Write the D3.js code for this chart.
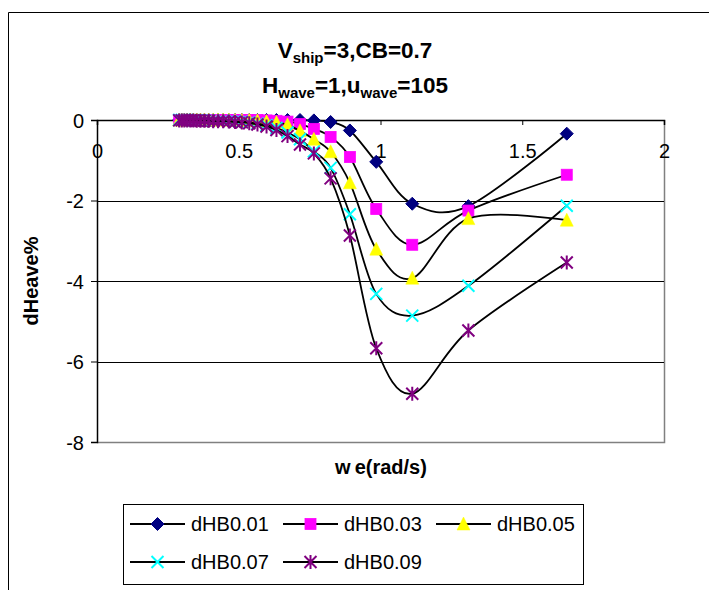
<!DOCTYPE html>
<html><head><meta charset="utf-8">
<script src="https://cdn.jsdelivr.net/npm/d3@7"></script>
<style>
body{margin:0;background:#fff;}
svg{display:block;font-family:"Liberation Sans",Arial,sans-serif;}
</style></head>
<body><svg id="c" width="709" height="590"></svg>
<script>
const weValues = [0.290,0.299,0.308,0.318,0.329,0.340,0.352,0.365,0.379,0.394,0.410,0.427,0.445,0.465,0.487,0.511,0.537,0.566,0.598,0.633,0.672,0.716,0.765,0.824,0.892,0.985,1.112,1.310,1.657];
const dHB001 = [0,0,0,0,0,0,0,0,0,0,0,0,0,0,0,0,0,0,0,0,0,0,-0.01,-0.05,-0.26,-1.04,-2.08,-2.14,-0.34];
const dHB003 = [0,0,0,0,0,0,0,0,0,0,0,0,0,0,0,0,0,0,-0.01,-0.02,-0.04,-0.10,-0.22,-0.42,-0.92,-2.21,-3.10,-2.25,-1.36];
const dHB005 = [0,0,0,0,0,0,0,0,0,0,0,0,0,0,-0.01,-0.01,-0.01,-0.02,-0.04,-0.06,-0.12,-0.27,-0.48,-0.79,-1.56,-3.21,-3.93,-2.45,-2.49];
const dHB007 = [0,0,0,0,-0.01,-0.01,-0.01,-0.01,-0.01,-0.01,-0.02,-0.02,-0.02,-0.03,-0.03,-0.04,-0.06,-0.09,-0.13,-0.20,-0.31,-0.48,-0.78,-1.19,-2.34,-4.32,-4.86,-4.12,-2.13];
const dHB009 = [-0.01,-0.01,-0.01,-0.01,-0.01,-0.01,-0.02,-0.02,-0.02,-0.02,-0.03,-0.03,-0.03,-0.04,-0.05,-0.06,-0.08,-0.11,-0.16,-0.25,-0.40,-0.61,-0.83,-1.45,-2.87,-5.67,-6.80,-5.23,-3.54];
const seriesNames = ["dHB0.01","dHB0.03","dHB0.05","dHB0.07","dHB0.09"];
const seriesValues = [dHB001,dHB003,dHB005,dHB007,dHB009];
const xTicks = [0,0.5,1,1.5,2];
const yTicks = [0,-2,-4,-6,-8];

const styles = [
  {shape:"diamond", color:"#000080"},
  {shape:"square", color:"#FF00FF"},
  {shape:"triangle", color:"#FFFF00"},
  {shape:"cross", color:"#00FFFF"},
  {shape:"star", color:"#800080"}
];

const svg = d3.select("#c");
svg.append("path").attr("d","M8.5,590 V12.5 H709").attr("fill","none").attr("stroke","#000").attr("stroke-width",1);

const x = d3.scaleLinear().domain([0,2]).range([97,664]);
const y = d3.scaleLinear().domain([-8,0]).range([442,120]);

svg.append("path").attr("d",`M${x(0)},${y(-8)+0.5} H${x(2)+0.5} V${y(0)}`).attr("fill","none").attr("stroke","#808080").attr("stroke-width",1.5);

svg.append("g").selectAll("line").data(yTicks.filter(d=>d!==0 && d!==-8)).join("line")
  .attr("x1",x(0)).attr("x2",x(2)).attr("y1",d=>Math.round(y(d))+0.5).attr("y2",d=>Math.round(y(d))+0.5)
  .attr("stroke","#000").attr("stroke-width",1);

const yAxis = svg.append("g").attr("transform",`translate(${x(0)},0)`)
  .call(d3.axisLeft(y).tickValues(yTicks).tickSize(6).tickFormat(d=>String(d)));
yAxis.select(".domain").attr("stroke","#000").attr("stroke-width",1.5);
yAxis.selectAll(".tick line").attr("stroke","#000");
yAxis.selectAll(".tick text").attr("font-size",20).attr("font-family","Liberation Sans, Arial").attr("fill","#000").attr("x",-13).attr("dy","0.35em");

const xAxis = svg.append("g").attr("transform",`translate(0,${y(0)})`)
  .call(d3.axisBottom(x).tickValues(xTicks).tickSize(5).tickFormat(d=>String(d)));
xAxis.select(".domain").attr("stroke","#000").attr("stroke-width",1.5);
xAxis.selectAll(".tick line").attr("stroke","#000");
xAxis.selectAll(".tick text").attr("font-size",20).attr("font-family","Liberation Sans, Arial").attr("fill","#000").attr("y",24).attr("dy","0.71em");

const t1 = svg.append("text").attr("x",355).attr("y",58).attr("text-anchor","middle").attr("font-weight","bold").attr("font-size",22.5);
t1.append("tspan").text("V");
t1.append("tspan").attr("font-size",15).attr("dy",5).text("ship");
t1.append("tspan").attr("dy",-5).text("=3,CB=0.7");
const t2 = svg.append("text").attr("x",355).attr("y",93).attr("text-anchor","middle").attr("font-weight","bold").attr("font-size",22.5);
t2.append("tspan").text("H");
t2.append("tspan").attr("font-size",15).attr("dy",5).text("wave");
t2.append("tspan").attr("dy",-5).text("=1,u");
t2.append("tspan").attr("font-size",15).attr("dy",5).text("wave");
t2.append("tspan").attr("dy",-5).text("=105");

const xt = svg.append("text").attr("x",381).attr("y",474).attr("text-anchor","middle").attr("font-weight","bold").attr("font-size",20);
xt.append("tspan").text("w");
xt.append("tspan").attr("dx",4).text("e(rad/s)");
svg.append("text").attr("transform","translate(38,281) rotate(-90)").attr("text-anchor","middle").attr("font-weight","bold").attr("font-size",20)
  .text("dHeave%");

function marker(g, shape, color, cx, cy){
  if(shape==="diamond"){
    g.append("path").attr("d",`M${cx},${cy-6.5}L${cx+6.5},${cy}L${cx},${cy+6.5}L${cx-6.5},${cy}Z`).attr("fill",color).attr("stroke",color);
  } else if(shape==="square"){
    g.append("rect").attr("x",cx-5.5).attr("y",cy-5.5).attr("width",11).attr("height",11).attr("fill",color).attr("stroke",color).attr("stroke-width",0.8);
  } else if(shape==="triangle"){
    g.append("path").attr("d",`M${cx},${cy-7}L${cx+6.5},${cy+6}L${cx-6.5},${cy+6}Z`).attr("fill",color).attr("stroke",color).attr("stroke-width",0.5);
  } else if(shape==="cross"){
    g.append("path").attr("d",`M${cx-6},${cy-6}L${cx+6},${cy+6}M${cx+6},${cy-6}L${cx-6},${cy+6}`).attr("stroke",color).attr("stroke-width",2).attr("fill","none");
  } else if(shape==="star"){
    g.append("path").attr("d",`M${cx-6},${cy-6}L${cx+6},${cy+6}M${cx+6},${cy-6}L${cx-6},${cy+6}M${cx},${cy-7}L${cx},${cy+7}`).attr("stroke",color).attr("stroke-width",2).attr("fill","none");
  }
}

const line = d3.line().x(d=>x(d[0])).y(d=>y(d[1])).curve(d3.curveCardinal.tension(0));
seriesValues.forEach((vals,i)=>{
  const pts = weValues.map((w,j)=>[w,vals[j]]);
  const g = svg.append("g");
  g.append("path").attr("d",line(pts)).attr("fill","none").attr("stroke","#000").attr("stroke-width",1.8);
  pts.forEach(p=>marker(g, styles[i].shape, styles[i].color, x(p[0]), y(p[1])));
});

const lg = svg.append("g");
lg.append("rect").attr("x",123.5).attr("y",504.5).attr("width",460).attr("height",80).attr("fill","#fff").attr("stroke","#000").attr("stroke-width",1);
const colX = [130,283,436];
const rowY = [524,562];
seriesNames.forEach((n,i)=>{
  const cx = colX[i%3], cy = rowY[Math.floor(i/3)];
  lg.append("line").attr("x1",cx).attr("x2",cx+55).attr("y1",cy).attr("y2",cy).attr("stroke","#000").attr("stroke-width",1.8);
  marker(lg, styles[i].shape, styles[i].color, cx+27.5, cy);
  lg.append("text").attr("x",cx+61).attr("y",cy).attr("dy","0.36em").attr("font-size",20).text(n);
});
</script></body></html>
